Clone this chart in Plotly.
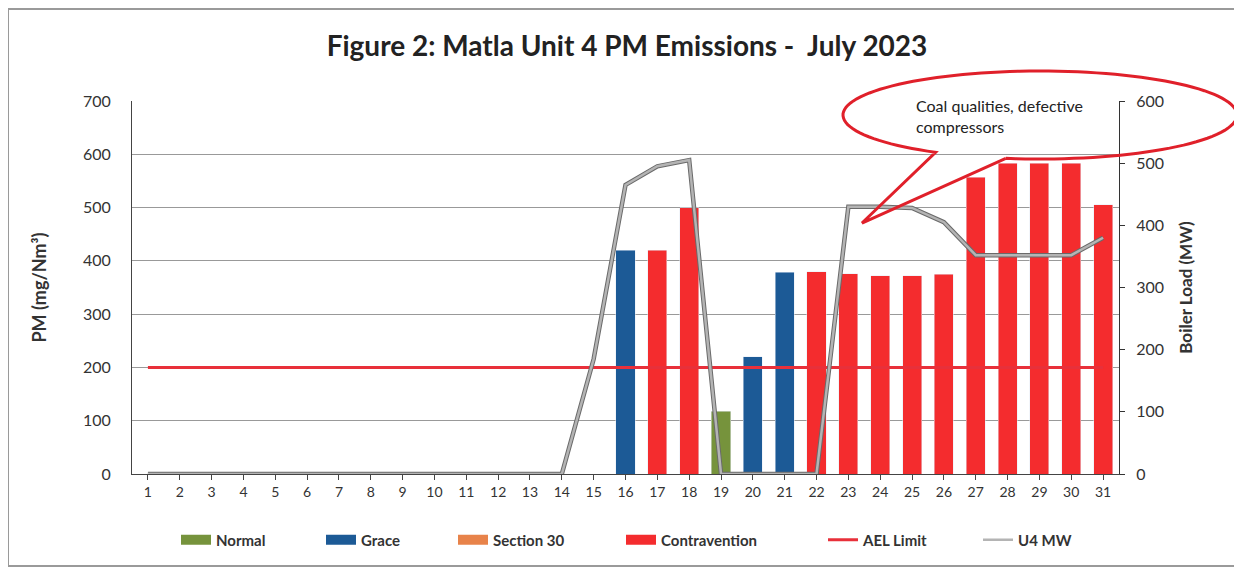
import numpy as np
import plotly.graph_objects as go

days = ["1", "2", "3", "4", "5", "6", "7", "8", "9", "10", "11", "12", "13", "14", "15", "16",
        "17", "18", "19", "20", "21", "22", "23", "24", "25", "26", "27", "28", "29", "30", "31"]

N = None
normal = [N, N, N, N, N, N, N, N, N, N, N, N, N, N, N, N,
          N, N, 118, N, N, N, N, N, N, N, N, N, N, N, N]
grace = [N, N, N, N, N, N, N, N, N, N, N, N, N, N, N, 420,
         N, N, N, 220, 379, N, N, N, N, N, N, N, N, N, N]
section30 = [N, N, N, N, N, N, N, N, N, N, N, N, N, N, N, N,
             N, N, N, N, N, N, N, N, N, N, N, N, N, N, N]
contravention = [N, N, N, N, N, N, N, N, N, N, N, N, N, N, N, N,
                 420, 500, N, N, N, 380, 376, 372, 372, 375, 557, 583, 583, 583, 505]
ael_limit = [200, 200, 200, 200, 200, 200, 200, 200, 200, 200, 200, 200, 200, 200, 200, 200,
             200, 200, 200, 200, 200, 200, 200, 200, 200, 200, 200, 200, 200, 200, 200]
u4_mw = [0, 0, 0, 0, 0, 0, 0, 0, 0, 0, 0, 0, 0, 0, 185, 465,
         495, 505, 0, 0, 0, 0, 430, 430, 428, 405, 352, 352, 352, 352, 380]

FONT = "Lato"
OFF = 8                      # page body margin
W, H = 1242 - OFF, 569 - OFF
# plot area in screen pixels
L, R, T, B = 132, 1119, 101, 474


def px2paper(x, y):
    return (x - L) / (R - L), (B - y) / (B - T)


fig = go.Figure()

fig.add_trace(go.Scatter(x=days, y=ael_limit, mode="lines", name="AEL Limit",
                         line=dict(color="#e8303a", width=3), legend="legend5"))

bar_series = [("Normal", normal, "#76933c", "legend"), ("Grace", grace, "#1c5a96", "legend2"),
              ("Section 30", section30, "#e8834a", "legend3"),
              ("Contravention", contravention, "#f42c2e", "legend4")]
for name, vals, col, lg in bar_series:
    fig.add_trace(go.Bar(x=days, y=vals, name=name, marker_color=col, width=0.6,
                         showlegend=False))
    # legend-only entry drawn as a wide block like the Excel key
    fig.add_trace(go.Scatter(x=[None], y=[None], mode="lines", name=name, legend=lg,
                             line=dict(color=col, width=12)))

fig.add_trace(go.Scatter(x=days, y=u4_mw, mode="lines", yaxis="y2", showlegend=False,
                         line=dict(color="#6a6a6a", width=4.5), hoverinfo="skip"))
fig.add_trace(go.Scatter(x=days, y=u4_mw, mode="lines", yaxis="y2", name="U4 MW",
                         line=dict(color="#b4b4b4", width=2.5), legend="legend6"))

# callout balloon
cx, cy, rx, ry = 1040, 115, 197, 44
ang = np.linspace(np.deg2rad(100), np.deg2rad(-238), 120)
pts = [(cx + rx * np.cos(a), cy + ry * np.sin(a)) for a in ang]
pts.append((862, 223))
pts.append(pts[0])
path = ""
for k, (x, y) in enumerate(pts):
    px_, py_ = px2paper(x, y)
    path += ("M" if k == 0 else "L") + f"{px_:.4f},{py_:.4f} "

fig.add_shape(type="path", path=path, xref="paper", yref="paper",
              line=dict(color="#e0202a", width=3), layer="above")

fig.add_annotation(text="Coal qualities, defective<br>compressors", xref="paper", yref="paper",
                   x=px2paper(914, 0)[0], y=px2paper(0, 94)[1], xanchor="left", yanchor="top",
                   align="left", showarrow=False, font=dict(family=FONT, size=16, color="#222"))

# outer frame
x0, y0 = px2paper(8, 566)
x1, y1 = px2paper(1239, 9)
fig.add_shape(type="rect", xref="paper", yref="paper", x0=x0, y0=y0, x1=x1, y1=y1,
              line=dict(color="#9a9a9a", width=2), layer="below")

# legends placed one by one
leg_y = px2paper(0, 540)[1]
leg_x = {"legend": 176, "legend2": 321, "legend3": 453, "legend4": 621,
         "legend5": 823, "legend6": 978}
legends = {}
for key, sx in leg_x.items():
    legends[key] = dict(x=px2paper(sx, 0)[0], xanchor="left", y=leg_y, yanchor="middle",
                        orientation="h", bgcolor="rgba(0,0,0,0)",
                        font=dict(family=FONT, size=15, weight="bold", color="#333"))

fig.update_layout(
    width=W, height=H,
    margin=dict(l=L - OFF, r=W - (R - OFF), t=T - OFF, b=H - (B - OFF)),
    paper_bgcolor="white", plot_bgcolor="white",
    barmode="stack",
    title=dict(text="<b>Figure 2: Matla Unit 4 PM Emissions -  July 2023</b>",
               x=(627 - OFF) / W, y=1 - (46 - OFF) / H,
               xanchor="center", yanchor="middle", font=dict(family=FONT, size=28, color="#222")),
    font=dict(family=FONT, color="#333"),
    xaxis=dict(type="category", range=[-0.5, 30.5], showline=True, linecolor="#444",
               ticks="outside", ticklen=5, tickcolor="#444", tickfont=dict(size=14),
               showgrid=False),
    yaxis=dict(range=[0, 700], dtick=100, showgrid=True, gridcolor="#999999", zeroline=False,
               showline=True, linecolor="#444", tickfont=dict(size=16), ticklabelstandoff=17,
               title=dict(text="<b>PM (mg/Nm³)</b>", font=dict(size=18), standoff=31)),
    yaxis2=dict(range=[0, 600], dtick=100, overlaying="y", side="right", showgrid=False,
                showline=True, linecolor="#333", ticks="outside", ticklen=5, tickcolor="#333",
                zeroline=False, tickfont=dict(size=16), ticklabelstandoff=8,
                title=dict(text="<b>Boiler Load (MW)</b>", font=dict(size=17), standoff=17)),
    showlegend=True,
    **legends,
)

fig.write_html("out.html")
